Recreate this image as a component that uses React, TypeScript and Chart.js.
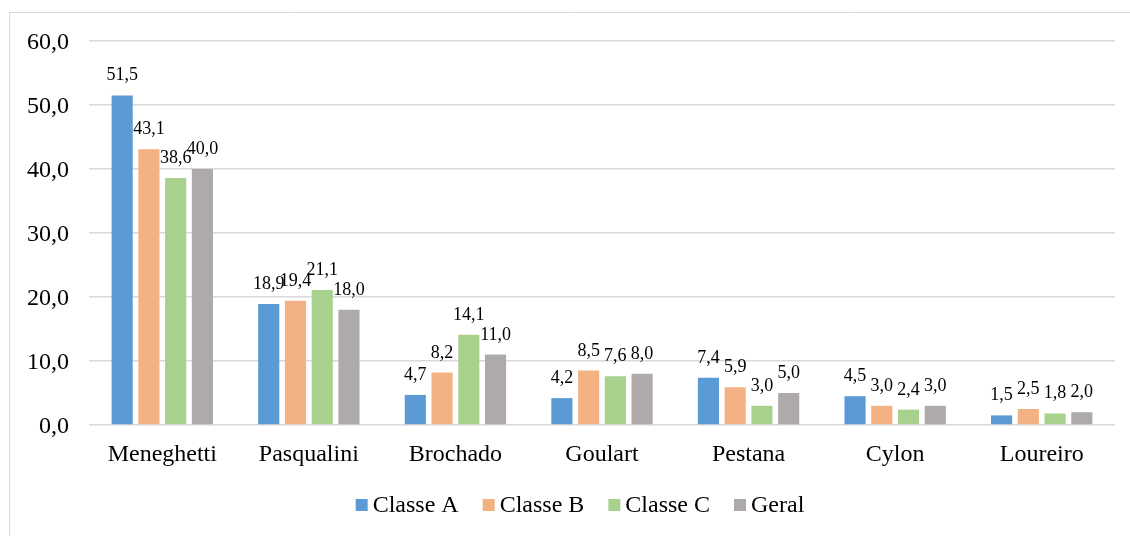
import React, { useEffect, useRef } from "react";
import { Chart, registerables } from "chart.js";

Chart.register(...registerables);

const categories = ["Meneghetti", "Pasqualini", "Brochado", "Goulart", "Pestana", "Cylon", "Loureiro"];
const classeA = [51.5, 18.9, 4.7, 4.2, 7.4, 4.5, 1.5];
const classeB = [43.1, 19.4, 8.2, 8.5, 5.9, 3.0, 2.5];
const classeC = [38.6, 21.1, 14.1, 7.6, 3.0, 2.4, 1.8];
const geral = [40.0, 18.0, 11.0, 8.0, 5.0, 3.0, 2.0];
const seriesNames = ["Classe A", "Classe B", "Classe C", "Geral"];
const seriesColors = ["#5B9BD5", "#F4B183", "#A9D18E", "#AEAAAA"];

const FONT = "'Liberation Serif', 'Times New Roman', serif";
const fmt = (v: number) => v.toFixed(1).replace(".", ",");

const framePlugin = {
  id: "frame",
  beforeDraw(chart: any) {
    const ctx = chart.ctx;
    ctx.save();
    ctx.strokeStyle = "#D9D9D9";
    ctx.lineWidth = 1;
    ctx.beginPath();
    ctx.moveTo(9.5, chart.height);
    ctx.lineTo(9.5, 12.5);
    ctx.lineTo(chart.width, 12.5);
    ctx.stroke();
    ctx.restore();
  },
};

const labelPlugin = {
  id: "valueLabels",
  afterDatasetsDraw(chart: any) {
    const ctx = chart.ctx;
    ctx.save();
    ctx.font = `18px ${FONT}`;
    ctx.fillStyle = "#000";
    ctx.textAlign = "center";
    ctx.textBaseline = "alphabetic";
    chart.data.datasets.forEach((ds: any, i: number) => {
      const meta = chart.getDatasetMeta(i);
      meta.data.forEach((bar: any, j: number) => {
        ctx.fillText(fmt(ds.data[j]), bar.x, bar.y - 15);
      });
    });
    ctx.restore();
  },
};

// Compact legend (small square, tight gap to the text) like the Office original
const legendPlugin = {
  id: "compactLegend",
  afterDraw(chart: any) {
    const ctx = chart.ctx;
    const box = 12;
    const gapText = 5;
    const gapItem = 24;
    const centerX = 580;
    const centerY = 505;
    ctx.save();
    ctx.font = `24px ${FONT}`;
    const items = chart.data.datasets.map((ds: any) => ({
      label: ds.label as string,
      color: ds.backgroundColor as string,
      w: ctx.measureText(ds.label).width,
    }));
    const total =
      items.reduce((s: number, it: any) => s + box + gapText + it.w, 0) + gapItem * (items.length - 1);
    let x = centerX - total / 2;
    ctx.textBaseline = "middle";
    ctx.textAlign = "left";
    items.forEach((it: any) => {
      ctx.fillStyle = it.color;
      ctx.fillRect(x, centerY - box / 2, box, box);
      ctx.fillStyle = "#000";
      ctx.fillText(it.label, x + box + gapText, centerY + 1);
      x += box + gapText + it.w + gapItem;
    });
    ctx.restore();
  },
};

export default function App() {
  const ref = useRef<HTMLCanvasElement | null>(null);
  useEffect(() => {
    if (!ref.current) return;
    const seriesData = [classeA, classeB, classeC, geral];
    const chart = new Chart(ref.current, {
      type: "bar",
      data: {
        labels: categories,
        datasets: seriesNames.map((name, i) => ({
          label: name,
          data: seriesData[i],
          backgroundColor: seriesColors[i],
          borderWidth: 0,
          categoryPercentage: 0.73,
          barPercentage: 0.79,
        })),
      },
      options: {
        animation: false,
        responsive: false,
        maintainAspectRatio: false,
        layout: { padding: { top: 41, right: 15, bottom: 56, left: 0 } },
        plugins: {
          title: { display: false },
          tooltip: { enabled: false },
          legend: { display: false },
        },
        scales: {
          x: {
            grid: { display: false, drawTicks: false },
            border: { display: false },
            ticks: { color: "#000", font: { family: FONT, size: 24 }, padding: 15, maxRotation: 0 },
            afterFit(scale: any) {
              scale.height = 55;
            },
          },
          y: {
            min: 0,
            max: 60,
            grid: { color: "#D9D9D9", lineWidth: 1.5, drawTicks: false },
            border: { display: false },
            ticks: {
              stepSize: 10,
              color: "#000",
              font: { family: FONT, size: 24 },
              padding: 20,
              labelOffset: 2,
              callback: (v: any) => fmt(Number(v)),
            },
            afterFit(scale: any) {
              scale.width = 89;
            },
          },
        },
      },
      plugins: [framePlugin, labelPlugin, legendPlugin],
    });
    return () => chart.destroy();
  }, []);
  return (
    <div style={{ position: "fixed", left: 0, top: 0, width: 1130, height: 536, background: "#fff" }}>
      <canvas ref={ref} width={1130} height={536} style={{ width: 1130, height: 536, display: "block" }} />
    </div>
  );
}
